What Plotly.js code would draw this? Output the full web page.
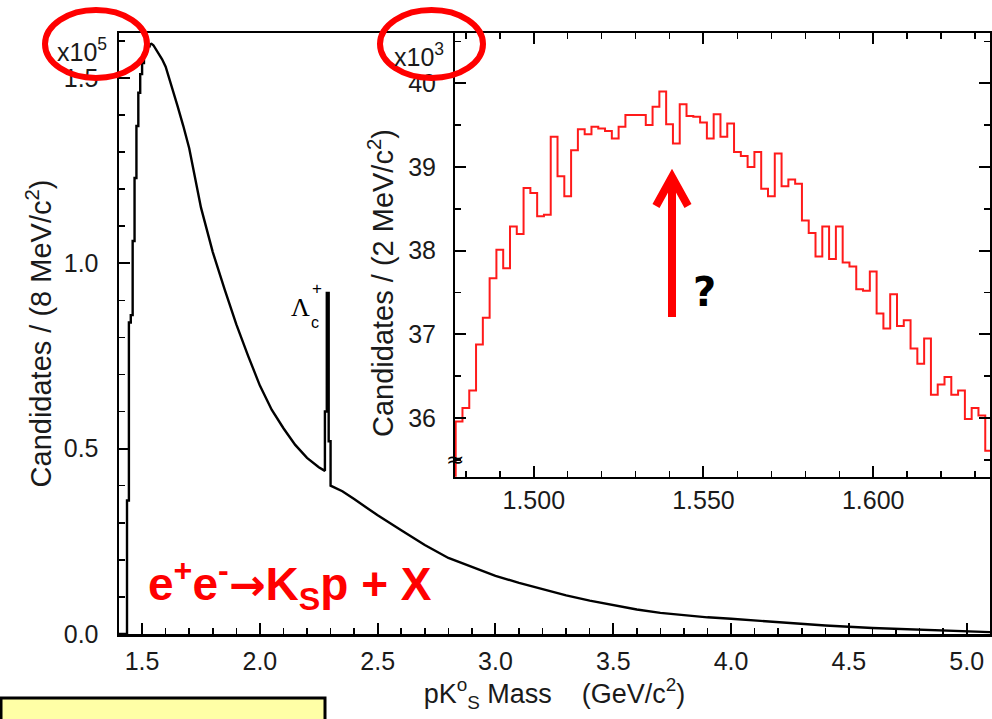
<!DOCTYPE html>
<html>
<head>
<meta charset="utf-8">
<script src="https://cdn.plot.ly/plotly-3.0.1.min.js"></script>
<style>html,body{margin:0;padding:0;background:#fff;}#chart{width:992px;height:719px;}</style>
</head>
<body>
<div id="chart"></div>
<script>
// ---- main histogram: pK0s mass (GeV/c^2), candidates per 8 MeV (x10^5) ----
const mainThreshMass   = [1.402, 1.436, 1.444, 1.452, 1.460, 1.468, 1.476, 1.484, 1.492, 1.500, 1.508, 1.516, 1.524, 1.532];
const mainThreshCounts = [0,     0.36,  0.84,  0.86,  1.06,  1.23,  1.37,  1.46,  1.51,  1.54,  1.565, 1.578, 1.585, 1.59];

const mainTailMass = [1.532, 1.540, 1.548, 1.556, 1.570, 1.585, 1.600, 1.625, 1.650, 1.675, 1.700, 1.725, 1.750, 1.775, 1.800,
  1.850, 1.900, 1.950, 2.000, 2.050, 2.100, 2.150, 2.200, 2.250, 2.276, 2.276, 2.284, 2.284, 2.292, 2.292, 2.300, 2.300,
  2.350, 2.400, 2.450, 2.500, 2.600, 2.700, 2.800, 2.900, 3.000, 3.100, 3.200, 3.300, 3.400, 3.500, 3.600, 3.700,
  3.800, 3.900, 4.000, 4.200, 4.400, 4.600, 4.800, 5.000, 5.100];
const mainTailCounts = [1.59, 1.592, 1.588, 1.58, 1.565, 1.55, 1.53, 1.48, 1.425, 1.37, 1.31, 1.23, 1.15, 1.09, 1.03,
  0.93, 0.835, 0.75, 0.67, 0.605, 0.555, 0.51, 0.475, 0.45, 0.44, 0.60, 0.60, 0.92, 0.92, 0.52, 0.52, 0.40,
  0.385, 0.364, 0.342, 0.32, 0.28, 0.24, 0.205, 0.18, 0.157, 0.138, 0.12, 0.104, 0.09, 0.077, 0.066, 0.057,
  0.050, 0.045, 0.041, 0.031, 0.023, 0.016, 0.011, 0.007, 0.005];

// ---- inset: 2 MeV bins from 1.477 GeV, candidates (x10^3) ----
const insetBinStart = 1.477;
const insetBinWidth = 0.002;
const insetCounts = [35.96, 36.12, 36.33, 36.88, 37.20, 37.67, 38.01, 37.79, 38.29, 38.20,
  38.75, 38.69, 38.41, 38.43, 39.36, 38.89, 38.65, 39.20, 39.45, 39.39,
  39.48, 39.46, 39.43, 39.34, 39.48, 39.62, 39.62, 39.62, 39.50, 39.72,
  39.90, 39.51, 39.28, 39.75, 39.61, 39.60, 39.53, 39.34, 39.63, 39.36,
  39.52, 39.18, 39.13, 39.00, 39.18, 38.74, 38.65, 39.16, 38.77, 38.85,
  38.80, 38.36, 38.21, 37.93, 38.29, 37.90, 38.29, 37.86, 37.81, 37.54,
  37.52, 37.75, 37.25, 37.07, 37.48, 37.10, 37.17, 36.83, 36.65, 36.95,
  36.28, 36.40, 36.49, 36.28, 36.33, 35.99, 36.12, 36.03, 35.61];

// histogram outline: start from zero at the first edge, one point per bin edge, close last bin
const insetX = [insetBinStart];
const insetY = [0];
insetCounts.forEach((c, i) => { insetX.push(+(insetBinStart + i * insetBinWidth).toFixed(4)); insetY.push(c); });
insetX.push(+(insetBinStart + insetCounts.length * insetBinWidth).toFixed(4));
insetY.push(insetCounts[insetCounts.length - 1]);

// ---- layout geometry helpers (pixel -> paper) ----
const W = 992, H = 719, ML = 119, MR = 2, MT = 33, MB = 85;
const PW = W - ML - MR, PH = H - MT - MB;
const px = x => (x - ML) / PW;
const py = y => (H - MB - y) / PH;

const FONT = 'Liberation Sans, Arial, sans-serif';
const TXT = '#1a1a1a';

const traces = [
  {x: mainThreshMass, y: mainThreshCounts, type: 'scatter', mode: 'lines', line: {color: '#000', width: 2.4, shape: 'hv'},
   xaxis: 'x', yaxis: 'y', hoverinfo: 'skip', showlegend: false},
  {x: mainTailMass, y: mainTailCounts, type: 'scatter', mode: 'lines', line: {color: '#000', width: 2.4, shape: 'linear'},
   xaxis: 'x', yaxis: 'y', hoverinfo: 'skip', showlegend: false},
  {x: insetX, y: insetY, type: 'scatter', mode: 'lines', line: {color: '#ff1a1a', width: 2, shape: 'hv'},
   xaxis: 'x2', yaxis: 'y2', hoverinfo: 'skip', showlegend: false}
];

const axisCommon = {showgrid: false, zeroline: false, showline: true, linecolor: '#000', ticks: 'inside',
  tickcolor: '#000', tickfont: {family: FONT, size: 25, color: TXT}};

const layout = {
  width: W, height: H,
  margin: {l: ML, r: MR, t: MT, b: MB, pad: 0},
  paper_bgcolor: '#fff', plot_bgcolor: '#fff',
  showlegend: false,
  xaxis: Object.assign({}, axisCommon, {
    domain: [0, 1], range: [1.402, 5.099], anchor: 'y',
    linewidth: 2.5, mirror: true, ticklen: 11, tickwidth: 2,
    tick0: 0, dtick: 0.5, tickformat: '.1f', ticklabelstandoff: 3,
    minor: {dtick: 0.1, ticks: 'inside', ticklen: 6, tickwidth: 1.5, tickcolor: '#000'},
    title: {text: 'pK<sup>o</sup><sub>S</sub> Mass\u00a0\u00a0\u00a0 (GeV/c<sup>2</sup>)', font: {family: FONT, size: 27, color: TXT}, standoff: 5}
  }),
  yaxis: Object.assign({}, axisCommon, {
    domain: [0, 1], range: [0, 1.621], anchor: 'x',
    linewidth: 2.5, mirror: true, ticklen: 11, tickwidth: 2,
    tick0: 0, dtick: 0.5, tickformat: '.1f', ticklabelstandoff: 13,
    minor: {dtick: 0.1, ticks: 'inside', ticklen: 6, tickwidth: 1.5, tickcolor: '#000'},
    title: {text: 'Candidates / (8 MeV/c<sup>2</sup>)', font: {family: FONT, size: 29, color: TXT}, standoff: 4}
  }),
  xaxis2: Object.assign({}, axisCommon, {
    domain: [px(455), 1], range: [1.4768, 1.6344], anchor: 'y2',
    linewidth: 2, mirror: 'ticks', ticklen: 11, tickwidth: 2,
    tick0: 0, dtick: 0.05, tickformat: '.3f', ticklabelstandoff: 0,
    minor: {dtick: 0.01, ticks: 'inside', ticklen: 6, tickwidth: 1.5, tickcolor: '#000'}
  }),
  yaxis2: Object.assign({}, axisCommon, {
    domain: [py(476.7), 1], range: [35.3, 40.6], anchor: 'x2',
    linewidth: 2, mirror: 'ticks', ticklen: 11, tickwidth: 2,
    tick0: 0, dtick: 1, tickformat: 'd', ticklabelstandoff: 12,
    minor: {dtick: 0.5, ticks: 'inside', ticklen: 6, tickwidth: 1.5, tickcolor: '#000'}
  }),
  annotations: [
    {xref: 'paper', yref: 'paper', x: px(109), y: py(50), xanchor: 'right', yanchor: 'middle', showarrow: false,
     text: 'x10<sup>5</sup>', font: {family: FONT, size: 25, color: TXT}},
    {xref: 'paper', yref: 'paper', x: px(446), y: py(55), xanchor: 'right', yanchor: 'middle', showarrow: false,
     text: 'x10<sup>3</sup>', font: {family: FONT, size: 25, color: TXT}},
    {xref: 'paper', yref: 'paper', x: px(381), y: py(283), xanchor: 'center', yanchor: 'middle', showarrow: false,
     textangle: -90, text: 'Candidates / (2 MeV/c<sup>2</sup>)', font: {family: FONT, size: 29, color: TXT}},
    {xref: 'paper', yref: 'paper', x: px(300), y: py(307), xanchor: 'center', yanchor: 'middle', showarrow: false,
     text: '\u039B', font: {family: 'Liberation Serif, serif', size: 26, color: '#000'}},
    {xref: 'paper', yref: 'paper', x: px(315), y: py(322), xanchor: 'center', yanchor: 'middle', showarrow: false,
     text: 'c', font: {family: FONT, size: 16, color: '#000'}},
    {xref: 'paper', yref: 'paper', x: px(317), y: py(288), xanchor: 'center', yanchor: 'middle', showarrow: false,
     text: '+', font: {family: FONT, size: 17, color: '#000'}},
    {xref: 'paper', yref: 'paper', x: px(146), y: py(584), xanchor: 'left', yanchor: 'middle', showarrow: false,
     text: '<b>e<sup>+</sup>e<sup>-</sup><span style="font-family:\'DejaVu Sans\';font-size:44px">\u2192</span>K<sub>S</sub>p + X</b>',
     font: {family: FONT, size: 46, color: '#ff0000'}},
    {xref: 'paper', yref: 'paper', x: px(704), y: py(292), xanchor: 'center', yanchor: 'middle', showarrow: false,
     text: '<b>?</b>', font: {family: 'DejaVu Sans, sans-serif', size: 40, color: '#000'}},
    {xref: 'paper', yref: 'paper', x: px(455), y: py(459), xanchor: 'center', yanchor: 'middle', showarrow: false,
     text: '\u2248', font: {family: 'DejaVu Sans, sans-serif', size: 22, color: '#000'}}
  ],
  shapes: [
    {type: 'rect', xref: 'paper', yref: 'paper', x0: px(1), x1: px(325), y0: py(740), y1: py(698),
     fillcolor: '#ffffa6', line: {color: '#000', width: 3}},
    {type: 'circle', xref: 'paper', yref: 'paper', x0: px(45), x1: px(147), y0: py(78), y1: py(10),
     line: {color: '#ff0000', width: 6}},
    {type: 'circle', xref: 'paper', yref: 'paper', x0: px(380), x1: px(483), y0: py(78), y1: py(10),
     line: {color: '#ff0000', width: 6}},
    {type: 'line', xref: 'paper', yref: 'paper', x0: px(672), x1: px(672), y0: py(317), y1: py(180),
     line: {color: '#ff0000', width: 8}},
    {type: 'path', xref: 'paper', yref: 'paper',
     path: 'M ' + px(656) + ',' + py(206) + ' L ' + px(672) + ',' + py(177) + ' L ' + px(688) + ',' + py(206),
     line: {color: '#ff0000', width: 8}}
  ]
};

Plotly.newPlot('chart', traces, layout, {staticPlot: true, displayModeBar: false});
</script>
</body>
</html>
